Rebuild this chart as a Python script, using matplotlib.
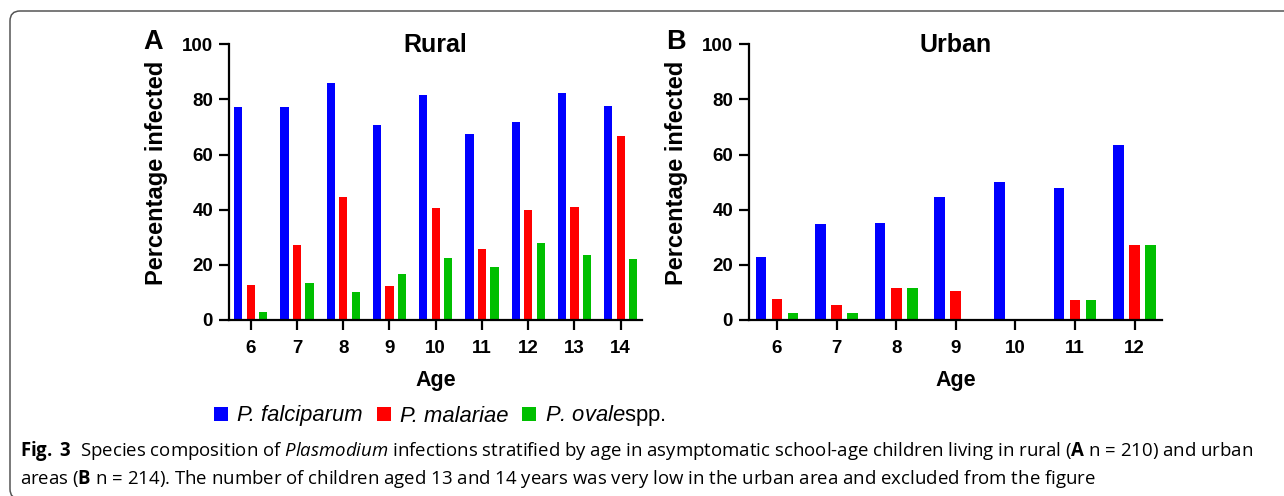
import numpy as np
import matplotlib
matplotlib.use("Agg")
import matplotlib.pyplot as plt
from matplotlib.patches import FancyBboxPatch
from matplotlib.transforms import IdentityTransform

plt.rcParams['font.family'] = ['Liberation Sans', 'DejaVu Sans']
plt.rcParams['mathtext.fontset'] = 'custom'
plt.rcParams['mathtext.rm'] = 'Open Sans'
plt.rcParams['mathtext.it'] = 'Open Sans:italic'
plt.rcParams['mathtext.bf'] = 'Open Sans:bold'
plt.rcParams['mathtext.tt'] = 'Liberation Sans'

# data (percentage infected)
rural_age = [6, 7, 8, 9, 10, 11, 12, 13, 14]
rural_pf = [77.3, 77.1, 86.1, 70.6, 81.6, 67.6, 71.9, 82.2, 77.6]
rural_pm = [12.7, 27.1, 44.6, 12.5, 40.7, 25.6, 39.9, 41.0, 66.6]
rural_po = [3.0, 13.4, 10.2, 16.6, 22.6, 19.2, 27.9, 23.5, 22.1]

urban_age = [6, 7, 8, 9, 10, 11, 12]
urban_pf = [22.9, 34.9, 35.2, 44.5, 49.9, 48.0, 63.5]
urban_pm = [7.6, 5.3, 11.7, 10.4, 0.0, 7.3, 27.1]
urban_po = [2.4, 2.5, 11.7, 0.0, 0.0, 7.3, 27.1]

species = ["P. falciparum", "P. malariae", r"P. ovale$\mathtt{spp.}$"]
colors = ['#0000FF', '#FF0000', '#00BF00']

W, H = 1284, 496
fig = plt.figure(figsize=(W / 100, H / 100), dpi=100)


def panel(rect, ages, series, title, letter, letter_x):
    ax = fig.add_axes(rect)
    x = np.arange(len(ages))
    bw = 0.18
    off = 0.27
    for i, (vals, c) in enumerate(zip(series, colors)):
        ax.bar(x + (i - 1) * off, vals, width=bw, color=c, label=species[i])
    ax.set_xlim(-0.47, len(ages) - 1 + 0.46)
    ax.set_ylim(0, 100)
    ax.set_yticks([0, 20, 40, 60, 80, 100])
    ax.set_xticks(x)
    ax.set_xticklabels([str(a) for a in ages])
    for s in ['top', 'right']:
        ax.spines[s].set_visible(False)
    for s in ['left', 'bottom']:
        ax.spines[s].set_linewidth(1.6)
    ax.tick_params(axis='y', length=7.5, width=1.6, pad=4, labelsize=13.5)
    ax.tick_params(axis='x', length=7.5, width=1.6, pad=7, labelsize=13.5)
    for lab in ax.get_xticklabels() + ax.get_yticklabels():
        lab.set_fontweight('bold')
    ax.set_ylabel("Percentage infected", fontsize=17, fontweight='bold')
    ax.yaxis.set_label_coords(-0.148, 0.535)
    ax.set_xlabel("Age", fontsize=15.5, fontweight='bold')
    ax.xaxis.set_label_coords(0.5, -0.181)
    ax.set_title(title, fontsize=18, fontweight='bold', y=0.973, pad=0)
    fig.text(letter_x, 0.9006, letter, fontsize=19.5, fontweight='bold', va='baseline')
    return ax


axA = panel([229 / W, 176 / H, 413 / W, 275.7 / H], rural_age,
            [rural_pf, rural_pm, rural_po], "Rural", "A", 143 / W)
axB = panel([749 / W, 176 / H, 413 / W, 275.7 / H], urban_age,
            [urban_pf, urban_pm, urban_po], "Urban", "B", 666 / W)

h, l = axA.get_legend_handles_labels()
leg = fig.legend(h, l, loc='center', bbox_to_anchor=(440 / W, 1 - 416 / H), ncol=3,
                 frameon=False, prop={'size': 15.8, 'style': 'italic'},
                 handlelength=0.64, handleheight=0.64,
                 handletextpad=0.41, columnspacing=0.63, borderpad=0)

cap_kw = dict(fontsize=13.4, family='Open Sans', va='baseline', ha='left')
fig.text(20 / W, 1 - 456 / H,
         r"$\mathbf{Fig.}$ $\mathbf{3}$  Species composition of $\mathit{Plasmodium}$ infections stratified by age "
         r"in asymptomatic school-age children living in rural ($\mathbf{A}$ n = 210) and urban", **cap_kw)
fig.text(20 / W, 1 - 484 / H,
         r"areas ($\mathbf{B}$ n = 214). The number of children aged 13 and 14 years was very low "
         r"in the urban area and excluded from the figure", **cap_kw)

frame = FancyBboxPatch((10, -3), 1300, 485 + 3, boxstyle="round,pad=0,rounding_size=10",
                       transform=IdentityTransform(), facecolor='none',
                       edgecolor='#555555', linewidth=1.1)
fig.add_artist(frame)

fig.savefig("out.png", dpi=100)
